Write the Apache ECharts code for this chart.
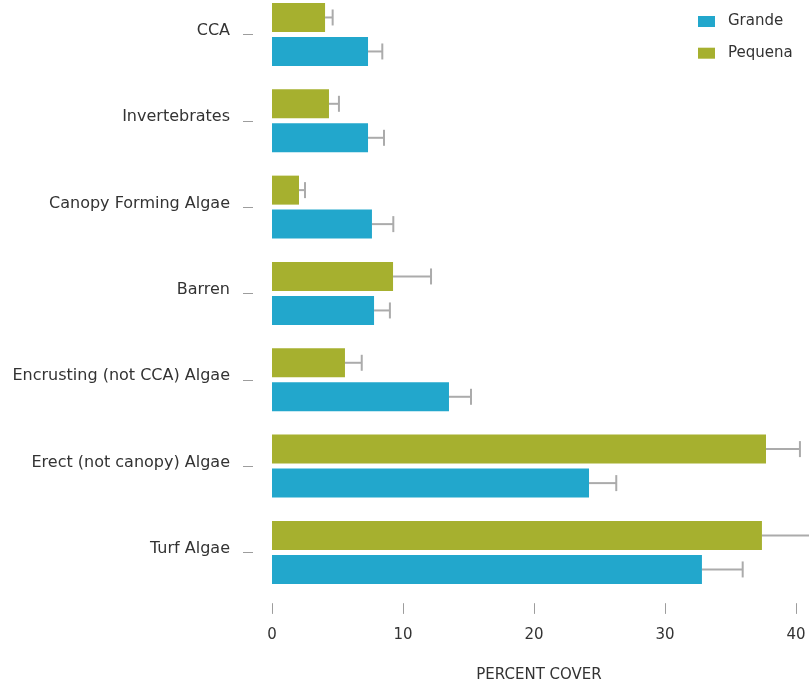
<!DOCTYPE html>
<html>
<head>
<meta charset="utf-8">
<script src="https://cdn.jsdelivr.net/npm/echarts@6/dist/echarts.min.js"></script>
<style>
  html, body { margin: 0; padding: 0; background: #fff; overflow: hidden; }
  #chart { width: 809px; height: 683px; }
</style>
</head>
<body>
<div id="chart"></div>
<script>
// Benthic cover by group
const categories = [
  'CCA',
  'Invertebrates',
  'Canopy Forming Algae',
  'Barren',
  'Encrusting (not CCA) Algae',
  'Erect (not canopy) Algae',
  'Turf Algae'
];
const grande      = [7.33, 7.33, 7.63, 7.79, 13.51, 24.2, 32.82];
const grandeUpper = [8.42, 8.55, 9.26, 9.0, 15.19, 26.28, 35.93];
const pequena      = [4.05, 4.35, 2.06, 9.24, 5.57, 37.71, 37.4];
const pequenaUpper = [4.63, 5.11, 2.52, 12.14, 6.85, 40.3, 41.5];
const xTicks = [0, 10, 20, 30, 40];

const BAR_W = 29;
const BAR_GAP = 5;
const FONT = 'DejaVu Sans';
const TEXT = '#333333';
const TICK = '#9d9d9d';
// the first category band starts slightly above the top edge
const GRID_TOP = -8.7;
const GRID_H = 604.3;

function errorSeries(name, values, upper, offset) {
  return {
    type: 'custom',
    name: name + ' error',
    clip: false,
    silent: true,
    z: 1,
    data: values.map((v, i) => [i, v, upper[i]]),
    encode: { x: [1, 2], y: 0 },
    renderItem: function (params, api) {
      const start = api.coord([api.value(1), api.value(0)]);
      const end = api.coord([api.value(2), api.value(0)]);
      const y = start[1] + offset;
      const capH = 8;
      const style = { stroke: '#ababab', lineWidth: 2 };
      return {
        type: 'group',
        children: [
          { type: 'line', shape: { x1: start[0], y1: y, x2: end[0], y2: y }, style: style },
          { type: 'line', shape: { x1: end[0], y1: y - capH, x2: end[0], y2: y + capH }, style: style }
        ]
      };
    }
  };
}

const chart = echarts.init(document.getElementById('chart'), null, { width: 809, height: 683 });
chart.setOption({
  animation: false,
  textStyle: { fontFamily: FONT },
  legend: {
    data: ['Grande', 'Pequena'],
    orient: 'vertical',
    left: 698,
    top: 14,
    padding: 0,
    icon: 'rect',
    itemWidth: 17,
    itemHeight: 11,
    itemGap: 16.7,
    textStyle: { fontFamily: FONT, fontSize: 15, color: TEXT, padding: [0, 0, 0, 8] }
  },
  grid: [
    // plot area
    { left: 272, right: 13, top: GRID_TOP, height: GRID_H, outerBoundsMode: 'none' },
    // thin strip that carries the category ticks and labels, set apart from the bars
    { left: 253, width: 1, top: GRID_TOP, height: GRID_H, outerBoundsMode: 'none' }
  ],
  xAxis: [
    {
      type: 'value',
      gridIndex: 0,
      min: xTicks[0],
      max: xTicks[xTicks.length - 1],
      interval: 10,
      offset: 7.6,
      axisLine: { show: false },
      axisTick: { show: true, length: 10.7, lineStyle: { color: TICK, width: 1 } },
      axisLabel: { color: TEXT, fontSize: 15, margin: 24, fontFamily: FONT },
      splitLine: { show: false },
      name: 'PERCENT COVER',
      nameLocation: 'middle',
      nameGap: 64,
      nameTextStyle: { color: TEXT, fontSize: 15, fontFamily: FONT, padding: [0, 0, 0, 10] }
    },
    { type: 'value', gridIndex: 1, show: false }
  ],
  yAxis: [
    {
      type: 'category',
      gridIndex: 0,
      data: categories,
      inverse: true,
      axisLine: { show: false },
      axisTick: { show: false },
      axisLabel: { show: false }
    },
    {
      type: 'category',
      gridIndex: 1,
      data: categories,
      inverse: true,
      position: 'left',
      axisLine: { show: false },
      axisTick: { show: true, alignWithLabel: true, length: 10, lineStyle: { color: TICK, width: 1 } },
      axisLabel: { color: TEXT, fontSize: 16, margin: 23, fontFamily: FONT, verticalAlign: 'bottom', lineHeight: 7 }
    }
  ],
  series: [
    {
      name: 'Pequena',
      type: 'bar',
      data: pequena,
      barWidth: BAR_W,
      barGap: (BAR_GAP / BAR_W * 100).toFixed(1) + '%',
      itemStyle: { color: '#a6b02f' },
      z: 2
    },
    {
      name: 'Grande',
      type: 'bar',
      data: grande,
      barWidth: BAR_W,
      itemStyle: { color: '#22a7cc' },
      z: 2
    },
    errorSeries('Pequena', pequena, pequenaUpper, -(BAR_W + BAR_GAP) / 2),
    errorSeries('Grande', grande, grandeUpper, (BAR_W + BAR_GAP) / 2)
  ]
});
</script>
</body>
</html>
